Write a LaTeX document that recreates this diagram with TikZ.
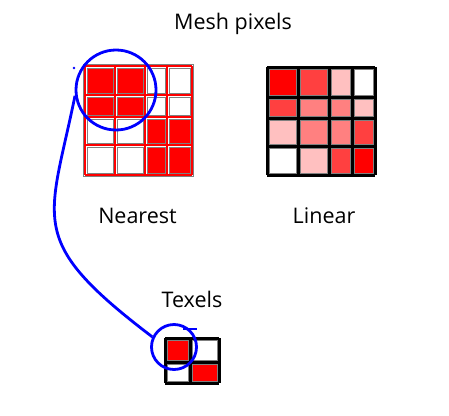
\documentclass[tikz,border=0pt]{standalone}
\usepackage{fontspec}
\setmainfont{Open Sans}
\definecolor{cA}{RGB}{255,0,0}
\definecolor{cB}{RGB}{255,64,64}
\definecolor{cC}{RGB}{255,128,128}
\definecolor{cD}{RGB}{255,192,192}
\definecolor{cW}{RGB}{255,255,255}
\definecolor{bl}{RGB}{0,0,255}
\tikzset{
  cellbox/.style={draw=gray, line width=0.9pt},
  redgrid/.style={draw=red, line width=2.6pt},
  blackgrid/.style={draw=black, line width=3pt},
  lbl/.style={anchor=base, inner sep=0pt, font=\fontsize{21.5}{24}\selectfont},
  loop/.style={draw=bl, line width=2.8pt, circle, inner sep=0pt},
  conn/.style={draw=bl, line width=2.8pt}
}
\newcommand{\cellat}[5]{\path[cellbox, fill=#5] (#1+2,#2+2) rectangle (#3-2,#4-2);}
\begin{document}
\begin{tikzpicture}[x=1pt,y=-1pt]
\useasboundingbox[fill=white] (0,0) rectangle (449,415);

% ---------- Nearest grid ----------
\foreach \x in {85,115,145,167,192} \draw[redgrid] (\x,66) -- (\x,175);
\foreach \y in {66,95,117,145,175} \draw[redgrid] (85,\y) -- (192,\y);
\draw[gray, line width=0.8pt] (83.5,64.5) rectangle (193.5,176.5);
\cellat{85}{66}{115}{95}{cA}
\cellat{115}{66}{145}{95}{cA}
\cellat{145}{66}{167}{95}{cW}
\cellat{167}{66}{192}{95}{cW}
\cellat{85}{95}{115}{117}{cA}
\cellat{115}{95}{145}{117}{cA}
\cellat{145}{95}{167}{117}{cW}
\cellat{167}{95}{192}{117}{cW}
\cellat{85}{117}{115}{145}{cW}
\cellat{115}{117}{145}{145}{cW}
\cellat{145}{117}{167}{145}{cA}
\cellat{167}{117}{192}{145}{cA}
\cellat{85}{145}{115}{175}{cW}
\cellat{115}{145}{145}{175}{cW}
\cellat{145}{145}{167}{175}{cA}
\cellat{167}{145}{192}{175}{cA}

% ---------- Linear grid ----------
\foreach \x in {267,298,329,352,375} \draw[blackgrid] (\x,67) -- (\x,175);
\foreach \y in {67,97,118,146,175} \draw[blackgrid] (267,\y) -- (375,\y);
\cellat{267}{67}{298}{97}{cA}
\cellat{298}{67}{329}{97}{cB}
\cellat{329}{67}{352}{97}{cD}
\cellat{352}{67}{375}{97}{cW}
\cellat{267}{97}{298}{118}{cB}
\cellat{298}{97}{329}{118}{cC}
\cellat{329}{97}{352}{118}{cC}
\cellat{352}{97}{375}{118}{cD}
\cellat{267}{118}{298}{146}{cD}
\cellat{298}{118}{329}{146}{cC}
\cellat{329}{118}{352}{146}{cC}
\cellat{352}{118}{375}{146}{cB}
\cellat{267}{146}{298}{175}{cW}
\cellat{298}{146}{329}{175}{cD}
\cellat{329}{146}{352}{175}{cB}
\cellat{352}{146}{375}{175}{cA}

% ---------- Texels ----------
\foreach \x in {165,190,219} \draw[blackgrid] (\x,338) -- (\x,383);
\foreach \y in {338,362,383} \draw[blackgrid] (165,\y) -- (219,\y);
\cellat{165}{338}{190}{362}{cA}
\cellat{190}{338}{219}{362}{cW}
\cellat{165}{362}{190}{383}{cW}
\cellat{190}{362}{219}{383}{cA}

% ---------- Labels ----------
\node[lbl] (tmesh) at (233,29) {Mesh pixels};
\node[lbl] (tnear) at (137.5,223) {Nearest};
\node[lbl] (tlin) at (324,223) {Linear};
\node[lbl] (ttex) at (192,307) {Texels};

% ---------- Blue highlight ----------
\node[loop, minimum size=80pt] (bigc) at (116,90) {};
\node[loop, minimum size=45pt] (smallc) at (174,347) {};
\draw[conn] (smallc.155) .. controls (25,240) and (49,223) .. (bigc.188);
\fill[bl] (74,68) circle (1.4pt);
\draw[bl, line width=1.2pt] (183,329) -- (197,329);
\end{tikzpicture}
\end{document}
